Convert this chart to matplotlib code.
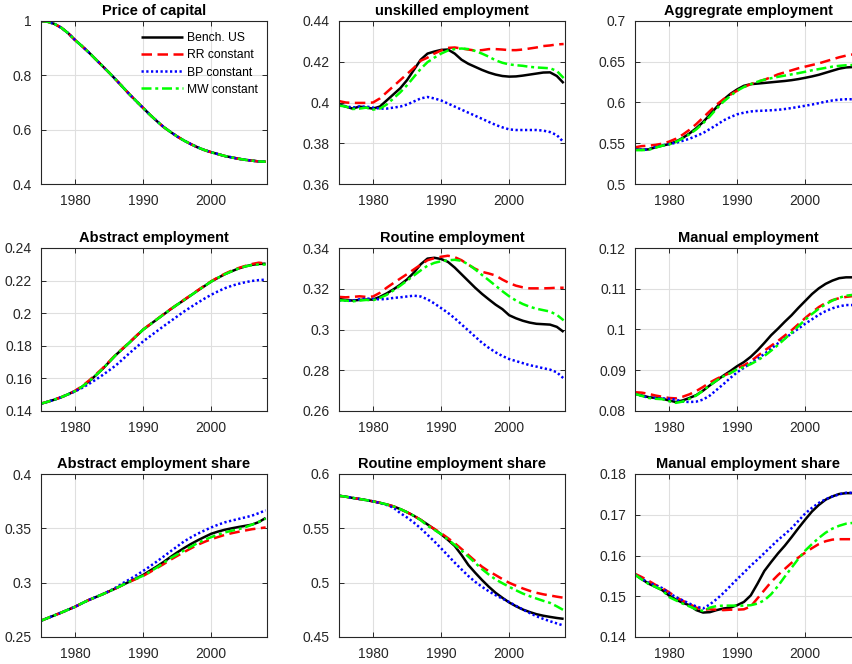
import matplotlib
matplotlib.use("Agg")
import matplotlib.pyplot as plt
from matplotlib.ticker import FuncFormatter

plt.rcParams['font.family'] = ['Liberation Sans', 'DejaVu Sans']

years = list(range(1975, 2009))
series_names = ["Bench. US", "RR constant", "BP constant", "MW constant"]

# ---------- Price of capital (all four coincide) ----------
price_capital = [1.000, 0.997, 0.989, 0.975, 0.955, 0.930, 0.908, 0.885, 0.860, 0.835,
                 0.810, 0.784, 0.757, 0.730, 0.705, 0.680, 0.655, 0.632, 0.610, 0.592,
                 0.575, 0.560, 0.547, 0.535, 0.525, 0.517, 0.510, 0.503, 0.498, 0.493,
                 0.489, 0.486, 0.483, 0.482]

# ---------- unskilled employment ----------
unsk_bench = [0.399, 0.398, 0.397, 0.398, 0.3975, 0.397, 0.398, 0.401, 0.404, 0.407,
              0.411, 0.416, 0.421, 0.424, 0.425, 0.4258, 0.426, 0.424, 0.421, 0.419,
              0.4175, 0.416, 0.4147, 0.4137, 0.413, 0.4127, 0.4128, 0.4132, 0.4137, 0.4142,
              0.4147, 0.4148, 0.413, 0.4095]
unsk_rr = [0.4007, 0.400, 0.3998, 0.3998, 0.3998, 0.400, 0.402, 0.405, 0.408, 0.411,
           0.414, 0.417, 0.4205, 0.422, 0.424, 0.4255, 0.4268, 0.427, 0.4265, 0.426,
           0.4255, 0.4257, 0.4262, 0.4262, 0.426, 0.4257, 0.4257, 0.426, 0.4265, 0.427,
           0.4277, 0.428, 0.4285, 0.4287]
unsk_bp = [0.3985, 0.3982, 0.3975, 0.398, 0.398, 0.3975, 0.397, 0.397, 0.3975, 0.398,
           0.399, 0.4005, 0.402, 0.4027, 0.402, 0.401, 0.3995, 0.398, 0.3965, 0.395,
           0.3935, 0.392, 0.3905, 0.389, 0.3878, 0.3868, 0.3865, 0.3865, 0.3865, 0.3865,
           0.3862, 0.3855, 0.384, 0.3805]
unsk_mw = [0.3985, 0.398, 0.3968, 0.397, 0.3975, 0.3965, 0.397, 0.399, 0.402, 0.405,
           0.4085, 0.4125, 0.4165, 0.4198, 0.422, 0.424, 0.4255, 0.4262, 0.4265, 0.4262,
           0.4253, 0.424, 0.4225, 0.4207, 0.4195, 0.4187, 0.4183, 0.418, 0.4175, 0.4172,
           0.417, 0.4168, 0.4155, 0.412]

# ---------- Aggregate employment ----------
agg_bench = [0.5425, 0.542, 0.5425, 0.545, 0.547, 0.549, 0.552, 0.5565, 0.562, 0.5685,
             0.576, 0.585, 0.5945, 0.6035, 0.6105, 0.616, 0.6205, 0.6225, 0.6232, 0.624,
             0.6248, 0.6256, 0.6264, 0.6274, 0.6287, 0.6303, 0.632, 0.634, 0.6365, 0.639,
             0.6415, 0.643, 0.6435, 0.643]
agg_rr = [0.545, 0.5465, 0.547, 0.548, 0.5495, 0.552, 0.5555, 0.5605, 0.5665, 0.5735,
          0.5815, 0.5895, 0.5975, 0.604, 0.6095, 0.6145, 0.619, 0.6225, 0.6255, 0.628,
          0.631, 0.6345, 0.637, 0.6395, 0.642, 0.644, 0.646, 0.648, 0.6505, 0.653,
          0.6555, 0.6575, 0.659, 0.66]
agg_bp = [0.5425, 0.542, 0.5425, 0.5455, 0.5475, 0.549, 0.5505, 0.553, 0.5555, 0.559,
          0.5625, 0.5675, 0.5725, 0.578, 0.582, 0.5855, 0.5875, 0.589, 0.5897, 0.59,
          0.5905, 0.591, 0.592, 0.5932, 0.5946, 0.596, 0.5975, 0.5992, 0.601, 0.6025,
          0.6035, 0.604, 0.604, 0.6035]
agg_mw = [0.5415, 0.5415, 0.542, 0.5445, 0.547, 0.5485, 0.5515, 0.556, 0.561, 0.567,
          0.5745, 0.583, 0.5925, 0.601, 0.608, 0.6145, 0.619, 0.6225, 0.6255, 0.628,
          0.6298, 0.6315, 0.633, 0.6345, 0.636, 0.6377, 0.6395, 0.641, 0.6425, 0.644,
          0.645, 0.6457, 0.646, 0.646]

# ---------- Abstract employment ----------
abs_bench = [0.1445, 0.1457, 0.147, 0.1485, 0.1503, 0.1522, 0.1548, 0.158, 0.1617, 0.1656,
             0.17, 0.1744, 0.1782, 0.182, 0.186, 0.1899, 0.193, 0.1961, 0.1992, 0.2023,
             0.2052, 0.208, 0.2109, 0.2138, 0.2166, 0.2194, 0.2217, 0.2239, 0.2257, 0.2274,
             0.2287, 0.2297, 0.2302, 0.2304]
abs_rr = [0.1445, 0.1457, 0.147, 0.1485, 0.1503, 0.1524, 0.1552, 0.1585, 0.1622, 0.166,
          0.1703, 0.1746, 0.1784, 0.1822, 0.1861, 0.19, 0.1931, 0.1962, 0.1993, 0.2024,
          0.2053, 0.2082, 0.2111, 0.214, 0.2168, 0.2196, 0.222, 0.2242, 0.2261, 0.2277,
          0.229, 0.2302, 0.231, 0.2305]
abs_bp = [0.1445, 0.1457, 0.147, 0.1485, 0.1502, 0.152, 0.1541, 0.1565, 0.1591, 0.1619,
          0.1649, 0.168, 0.1717, 0.1755, 0.1791, 0.1827, 0.1858, 0.1889, 0.192, 0.195,
          0.198, 0.201, 0.2037, 0.2064, 0.2089, 0.2113, 0.2134, 0.2153, 0.2168, 0.218,
          0.219, 0.2198, 0.2203, 0.2206]
abs_mw = [0.1445, 0.1457, 0.147, 0.1485, 0.1503, 0.1522, 0.1548, 0.158, 0.1617, 0.1656,
          0.17, 0.1744, 0.1782, 0.182, 0.186, 0.1899, 0.193, 0.1961, 0.1992, 0.2023,
          0.2052, 0.208, 0.2109, 0.2138, 0.2166, 0.2194, 0.2217, 0.2239, 0.2257, 0.2274,
          0.2287, 0.2295, 0.2299, 0.2298]

# ---------- Routine employment ----------
rout_bench = [0.315, 0.3145, 0.3142, 0.3145, 0.3147, 0.3147, 0.316, 0.3177, 0.3197, 0.322,
              0.3246, 0.3279, 0.332, 0.3348, 0.3352, 0.3346, 0.3332, 0.3304, 0.3271, 0.3238,
              0.3205, 0.3175, 0.3148, 0.3122, 0.31, 0.307, 0.3055, 0.3043, 0.3034, 0.3028,
              0.3026, 0.3024, 0.3013, 0.2988]
rout_rr = [0.316, 0.3158, 0.316, 0.3163, 0.316, 0.3162, 0.318, 0.3205, 0.3228, 0.325,
           0.3272, 0.3295, 0.3318, 0.334, 0.335, 0.3357, 0.3362, 0.3355, 0.334, 0.3318,
           0.3298, 0.3283, 0.3275, 0.3265, 0.3245, 0.3228, 0.3215, 0.3207, 0.3202, 0.3202,
           0.3202, 0.3203, 0.3205, 0.3205]
rout_bp = [0.3143, 0.3142, 0.3142, 0.3148, 0.3152, 0.315, 0.3148, 0.315, 0.3155, 0.3158,
           0.3162, 0.3166, 0.3162, 0.3148, 0.3128, 0.3105, 0.3082, 0.3055, 0.3025, 0.2995,
           0.2965, 0.2935, 0.291, 0.2888, 0.287, 0.2855, 0.2845, 0.2835, 0.2825, 0.2818,
           0.281, 0.2803, 0.279, 0.276]
rout_mw = [0.3143, 0.3142, 0.3138, 0.3142, 0.3145, 0.3143, 0.3155, 0.317, 0.3192, 0.3215,
           0.324, 0.3265, 0.329, 0.3313, 0.3327, 0.3335, 0.334, 0.3342, 0.3337, 0.332,
           0.3295, 0.3268, 0.3242, 0.3215, 0.3188, 0.3163, 0.3142, 0.3125, 0.3112, 0.3102,
           0.3095, 0.3088, 0.3072, 0.3045]

# ---------- Manual employment ----------
man_bench = [0.0843, 0.0838, 0.0834, 0.0832, 0.083, 0.0826, 0.0822, 0.0826, 0.0832, 0.0839,
             0.085, 0.0863, 0.0875, 0.0887, 0.0898, 0.091, 0.092, 0.0933, 0.0949, 0.0967,
             0.0986, 0.1002, 0.1019, 0.1035, 0.1053, 0.107, 0.1087, 0.1101, 0.1112, 0.112,
             0.1126, 0.1128, 0.1128, 0.1124]
man_rr = [0.0846, 0.0845, 0.0842, 0.0838, 0.0835, 0.0832, 0.0831, 0.0835, 0.0841, 0.0849,
          0.0859, 0.087, 0.0879, 0.0887, 0.0893, 0.0905, 0.0912, 0.0922, 0.0935, 0.0948,
          0.096, 0.0972, 0.0985, 0.0998, 0.1013, 0.1028, 0.1042, 0.1055, 0.1065, 0.1072,
          0.1077, 0.108, 0.1082, 0.1082]
man_bp = [0.0842, 0.0837, 0.0833, 0.0832, 0.0831, 0.083, 0.0828, 0.0823, 0.0822, 0.0823,
          0.0828, 0.0838, 0.0852, 0.0866, 0.0881, 0.0895, 0.0906, 0.0917, 0.0928, 0.094,
          0.0953, 0.0966, 0.0978, 0.099, 0.1002, 0.1014, 0.1025, 0.1036, 0.1045, 0.1052,
          0.1057, 0.106, 0.106, 0.1058]
man_mw = [0.0842, 0.0837, 0.0832, 0.083, 0.0829, 0.0824, 0.082, 0.0823, 0.083, 0.0838,
          0.085, 0.0863, 0.0875, 0.0885, 0.0893, 0.0902, 0.0908, 0.0915, 0.0924, 0.0935,
          0.0948, 0.0962, 0.0977, 0.0992, 0.1008, 0.1024, 0.1038, 0.1051, 0.1062, 0.1071,
          0.1078, 0.1083, 0.1085, 0.1085]

# ---------- Abstract employment share ----------
abss_bench = [0.265, 0.2675, 0.27, 0.2725, 0.2752, 0.2778, 0.281, 0.284, 0.2866, 0.2892,
              0.292, 0.2948, 0.2979, 0.301, 0.304, 0.3071, 0.311, 0.3148, 0.319, 0.3235,
              0.3278, 0.3318, 0.3355, 0.3389, 0.342, 0.345, 0.347, 0.3487, 0.35, 0.3512,
              0.3523, 0.3534, 0.3558, 0.3595]
abss_rr = [0.265, 0.2675, 0.27, 0.2725, 0.2752, 0.2778, 0.281, 0.284, 0.2866, 0.2892,
           0.292, 0.2948, 0.2979, 0.3008, 0.3035, 0.3062, 0.3097, 0.3133, 0.317, 0.321,
           0.3246, 0.3281, 0.3315, 0.3348, 0.3375, 0.34, 0.342, 0.344, 0.3455, 0.3468,
           0.348, 0.3492, 0.35, 0.3508]
abss_bp = [0.265, 0.2675, 0.27, 0.2725, 0.2752, 0.2778, 0.281, 0.284, 0.2866, 0.2892,
           0.2922, 0.2955, 0.2995, 0.303, 0.3068, 0.3108, 0.315, 0.3194, 0.324, 0.3287,
           0.3333, 0.3379, 0.3416, 0.345, 0.348, 0.3508, 0.3533, 0.3555, 0.3571, 0.3586,
           0.3601, 0.3617, 0.364, 0.3666]
abss_mw = [0.265, 0.2675, 0.27, 0.2725, 0.2752, 0.2778, 0.281, 0.284, 0.2866, 0.2892,
           0.292, 0.2948, 0.2979, 0.3009, 0.3037, 0.3064, 0.31, 0.3139, 0.318, 0.3225,
           0.326, 0.3296, 0.333, 0.3364, 0.3393, 0.3419, 0.3442, 0.3462, 0.3478, 0.3492,
           0.351, 0.3534, 0.356, 0.3589]

# ---------- Routine employment share ----------
routs_bench = [0.58, 0.5791, 0.578, 0.577, 0.576, 0.5748, 0.5735, 0.572, 0.5702, 0.5677,
               0.5648, 0.5615, 0.5578, 0.5536, 0.5492, 0.5446, 0.5394, 0.5338, 0.5255, 0.5163,
               0.5092, 0.5025, 0.4963, 0.4907, 0.4861, 0.4818, 0.4783, 0.4753, 0.473, 0.471,
               0.4696, 0.4685, 0.4675, 0.4667]
routs_rr = [0.58, 0.5791, 0.578, 0.577, 0.576, 0.5748, 0.5735, 0.572, 0.5702, 0.5677,
            0.5648, 0.5615, 0.5578, 0.5532, 0.5495, 0.5455, 0.541, 0.5363, 0.531, 0.5255,
            0.52, 0.5147, 0.5105, 0.507, 0.5033, 0.4999, 0.4972, 0.4947, 0.4925, 0.4907,
            0.4893, 0.4882, 0.4871, 0.4861]
routs_bp = [0.58, 0.5791, 0.578, 0.577, 0.576, 0.5748, 0.5733, 0.5715, 0.569, 0.564,
            0.56, 0.5553, 0.55, 0.544, 0.538, 0.5316, 0.525, 0.5184, 0.5122, 0.5061,
            0.5008, 0.4962, 0.4921, 0.4885, 0.4853, 0.4822, 0.4787, 0.4753, 0.4721, 0.4691,
            0.4667, 0.4645, 0.4625, 0.4605]
routs_mw = [0.58, 0.5791, 0.578, 0.577, 0.576, 0.5748, 0.5735, 0.572, 0.5702, 0.5677,
            0.5648, 0.5615, 0.5576, 0.5523, 0.5486, 0.5446, 0.5398, 0.5347, 0.5295, 0.524,
            0.5182, 0.5125, 0.5075, 0.503, 0.4995, 0.4962, 0.493, 0.49, 0.4876, 0.4854,
            0.4833, 0.4814, 0.4782, 0.4747]

# ---------- Manual employment share ----------
mans_bench = [0.1553, 0.1542, 0.1531, 0.1523, 0.1515, 0.1502, 0.1492, 0.1484, 0.1478, 0.1466,
              0.146, 0.1461, 0.1466, 0.147, 0.1472, 0.1478, 0.1486, 0.1502, 0.1531, 0.1562,
              0.1584, 0.1605, 0.1624, 0.1645, 0.1667, 0.1688, 0.1708, 0.1724, 0.1737, 0.1745,
              0.1751, 0.1753, 0.1753, 0.1752]
mans_rr = [0.1555, 0.1547, 0.1538, 0.1528, 0.152, 0.151, 0.1498, 0.1489, 0.1481, 0.1472,
           0.1467, 0.1468, 0.1467, 0.1466, 0.1467, 0.1467, 0.1468, 0.1475, 0.1495, 0.1515,
           0.1535, 0.1552, 0.1567, 0.1582, 0.1595, 0.1607, 0.1618, 0.1628, 0.1635, 0.1639,
           0.164, 0.164, 0.164, 0.164]
mans_bp = [0.1553, 0.1543, 0.1533, 0.1527, 0.152, 0.1508, 0.1498, 0.149, 0.1482, 0.1475,
           0.147, 0.148, 0.1493, 0.1508, 0.1525, 0.1542, 0.1558, 0.1575, 0.159, 0.1606,
           0.1622, 0.1638, 0.1652, 0.1667, 0.1685, 0.1703, 0.1717, 0.1729, 0.1738, 0.1745,
           0.175, 0.1754, 0.1754, 0.1752]
mans_mw = [0.1553, 0.1541, 0.153, 0.1523, 0.1515, 0.1498, 0.149, 0.1482, 0.1475, 0.1468,
           0.1464, 0.1472, 0.1476, 0.1477, 0.1477, 0.1477, 0.1477, 0.1478, 0.1482, 0.149,
           0.1505, 0.1525, 0.1548, 0.157, 0.1592, 0.1612, 0.1628, 0.1643, 0.1656, 0.1666,
           0.1673, 0.1678, 0.168, 0.168]

titles = ["Price of capital", "unskilled employment", "Aggregrate employment",
          "Abstract employment", "Routine employment", "Manual employment",
          "Abstract employment share", "Routine employment share", "Manual employment share"]
panel_data = [
    [price_capital, price_capital, price_capital, price_capital],
    [unsk_bench, unsk_rr, unsk_bp, unsk_mw],
    [agg_bench, agg_rr, agg_bp, agg_mw],
    [abs_bench, abs_rr, abs_bp, abs_mw],
    [rout_bench, rout_rr, rout_bp, rout_mw],
    [man_bench, man_rr, man_bp, man_mw],
    [abss_bench, abss_rr, abss_bp, abss_mw],
    [routs_bench, routs_rr, routs_bp, routs_mw],
    [mans_bench, mans_rr, mans_bp, mans_mw],
]
y_limits = [(0.4, 1.0), (0.36, 0.44), (0.5, 0.7),
            (0.14, 0.24), (0.26, 0.34), (0.08, 0.12),
            (0.25, 0.4), (0.45, 0.6), (0.14, 0.18)]
y_steps = [0.2, 0.02, 0.05, 0.02, 0.02, 0.01, 0.05, 0.05, 0.01]
x_ticks = [1980, 1990, 2000]

styles = [
    dict(color="black", linestyle="-"),
    dict(color=(1, 0, 0), linestyle=(0, (4.2, 2.2))),
    dict(color=(0, 0, 1), linestyle=(0, (0.9, 1.0))),
    dict(color=(0, 1, 0), linestyle=(0, (4.0, 1.5, 1.2, 1.5))),
]

W, H = 853, 664
fig = plt.figure(figsize=(W / 100, H / 100), dpi=100)
fig.patch.set_facecolor("white")

col_left = [41, 339, 635]
row_top = [21, 248, 474]
ax_w, ax_h = 226, 163
axis_col = "#262626"

fmt = FuncFormatter(lambda v, p: f"{round(v, 4):g}")

for i in range(9):
    r, c = divmod(i, 3)
    left = col_left[c] / W
    bottom = 1 - (row_top[r] + ax_h) / H
    ax = fig.add_axes([left, bottom, ax_w / W, ax_h / H])
    for k in range(4):
        ax.plot(years, panel_data[i][k], linewidth=1.8, label=series_names[k],
                solid_capstyle="butt", dash_capstyle="butt", **styles[k])
    lo, hi = y_limits[i]
    n = int(round((hi - lo) / y_steps[i]))
    ax.set_yticks([lo + j * y_steps[i] for j in range(n + 1)])
    ax.set_ylim(lo, hi)
    ax.set_xlim(1975, 2008.2)
    ax.set_xticks(x_ticks)
    ax.yaxis.set_major_formatter(fmt)
    ax.grid(True, color="#dfdfdf", linewidth=0.8)
    ax.set_axisbelow(True)
    for s in ax.spines.values():
        s.set_color(axis_col)
        s.set_linewidth(0.8)
    ax.tick_params(direction="in", length=3.5, width=0.7, colors=axis_col,
                   labelsize=10, top=True, right=True)
    ax.tick_params(axis="x", pad=7.5)
    ax.tick_params(axis="y", pad=6.5)
    ax.set_title(titles[i], fontsize=10.5, fontweight="bold", pad=4, color="black")
    if i == 0:
        ax.legend(loc="upper right", frameon=False, fontsize=8.7, handlelength=3.4,
                  handletextpad=0.35, labelspacing=0.42, borderaxespad=0.0,
                  borderpad=0.4, bbox_to_anchor=(0.98, 0.96))

fig.savefig("out.png", dpi=100)
